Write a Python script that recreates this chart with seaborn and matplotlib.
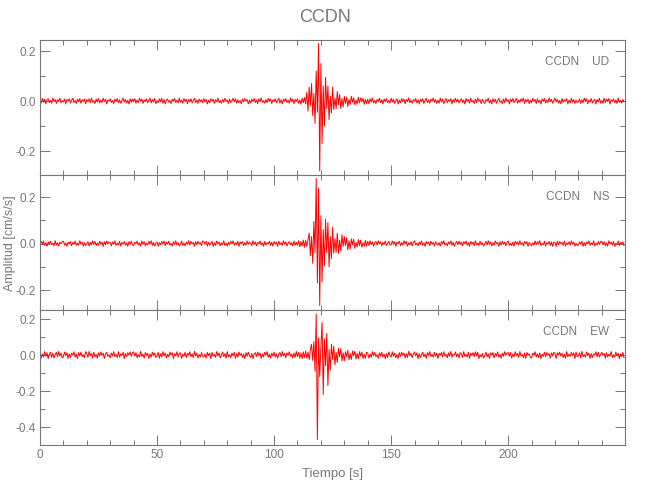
import numpy as np
import pandas as pd
import matplotlib
matplotlib.use("Agg")
import matplotlib.pyplot as plt
import seaborn as sns
from matplotlib.ticker import MultipleLocator, FormatStrFormatter

# sampling step of the traces [s]
dt = 0.5
station = "CCDN"
components = ["UD", "NS", "EW"]

# amplitudes in units of 0.001 cm/s/s, one row = 10 s
ud = [
    3, -8, 10, -5, 7, -11, 4, 9, -6, 2, -9, 12, -3, 6, -10, 5, -2, 11, -7, 1,
    -4, 8, -12, 6, -1, 9, -8, 3, 11, -6, 2, -10, 7, -3, 10, -9, 5, -2, 8, -11,
    6, -3, 9, -7, 12, -5, 1, -10, 8, -4, 10, -8, 3, -6, 11, -2, 7, -12, 4, -1,
    9, -6, 2, -11, 8, -3, 10, -7, 5, -9, 1, 12, -4, 6, -8, 3, -12, 9, -5, 7,
    -2, 10, -9, 4, -6, 11, -1, 8, -10, 5, -3, 9, -7, 2, 12, -8, 6, -4, 10, -11,
    1, -7, 9, -3, 11, -9, 6, -12, 4, 8, -5, 2, -10, 7, -1, 10, -6, 3, -8, 12,
    -5, 3, -9, 10, -2, 7, -11, 6, -4, 9, -8, 1, 11, -6, 4, -10, 8, -3, 5, -7,
    10, -4, 6, -12, 3, -8, 9, -1, 7, -10, 5, -3, 12, -7, 2, -9, 6, -5, 11, -2,
    4, -10, 8, -6, 1, 11, -3, 9, -9, 5, -7, 2, -11, 8, -4, 10, -1, 6, -12, 3,
    -8, 7, -2, 10, -6, 4, -11, 9, -3, 12, -5, 1, -9, 6, -7, 11, -2, 8, -10, 5,
    -3, 9, -7, 2, 11, -8, 5, -12, 7, -1, 10, -6, 3, -9, 12, -4, 8, -11, 6, -2,
    9, -10, 4, -13, 11, -7, 14, -12, 35, -40, 55, -20, 70, -58, 30, -90, 120, -45, 230, -280,
    150, -170, 60, -100, 95, -30, 60, -75, 20, -48, 55, -35, 12, -32, 38, -15, 26, -30, 10, -24,
    18, -9, 15, -22, 6, -14, 19, -5, 13, -16, 4, -12, 15, -8, 12, -3, 11, -13, 6, -10,
    7, -11, 9, -4, 12, -8, 3, -10, 6, -2, 11, -7, 5, -12, 8, -3, 10, -6, 2, -9,
    11, -5, 7, -10, 1, 9, -12, 4, -6, 10, -3, 8, -11, 6, -2, 12, -7, 3, -9, 5,
    -1, 10, -8, 5, -12, 7, -3, 9, -10, 2, 11, -6, 4, -9, 8, -1, 12, -5, 6, -10,
    3, -9, 12, -4, 8, -11, 2, 10, -7, 5, -2, 9, -12, 6, -5, 11, -3, 7, -8, 1,
    9, -6, 4, -12, 10, -2, 6, -9, 11, -4, 3, -10, 8, -7, 12, -1, 5, -11, 7, -3,
    -10, 6, -1, 11, -8, 3, -12, 9, -4, 7, -9, 2, 10, -5, 1, -11, 8, -6, 12, -2,
    5, -12, 8, -3, 10, -7, 1, 11, -9, 4, -6, 9, -2, 12, -10, 6, -4, 8, -11, 3,
    -7, 11, -2, 6, -10, 9, -5, 3, -12, 8, -1, 10, -8, 4, -6, 12, -3, 7, -9, 2,
    12, -4, 7, -9, 2, -11, 10, -6, 5, -1, 9, -12, 3, -8, 11, -5, 6, -10, 4, -7,
    -3, 8, -10, 5, -7, 12, -2, 9, -11, 4, -5, 10, -8, 1, 7, -12, 6, -4, 11, -9,
    2, -9, 11, -6, 8, -3, 10, -12, 5, -1, 9, -7, 4, -10, 12, -5, 3, -8, 6, -4,
]

ns = [
    -6, 9, -2, 11, -8, 4, -12, 7, -3, 10, -5, 1, -9, 12, -7, 3, -11, 6, -1, 8,
    10, -7, 3, -12, 6, -2, 9, -10, 5, -4, 11, -8, 2, -6, 12, -3, 7, -11, 4, -9,
    -1, 8, -11, 5, -6, 12, -4, 9, -9, 2, -7, 10, -3, 6, -12, 8, -5, 11, -2, 7,
    4, -10, 7, -3, 12, -8, 1, -6, 10, -11, 5, -2, 9, -7, 3, -12, 8, -4, 11, -5,
    -9, 6, -1, 10, -7, 3, -12, 11, -4, 8, -10, 2, -6, 9, -3, 12, -8, 5, -11, 1,
    7, -12, 4, -5, 9, -2, 11, -9, 6, -3, 10, -7, 1, -11, 8, -4, 12, -6, 3, -10,
    -4, 11, -8, 2, -10, 6, -3, 12, -7, 9, -1, 5, -12, 8, -6, 10, -2, 4, -9, 11,
    8, -3, 10, -11, 5, -7, 1, 9, -12, 4, -8, 11, -2, 6, -10, 3, -5, 12, -9, 2,
    -11, 5, -6, 9, -2, 12, -8, 3, -4, 10, -12, 7, -1, 8, -9, 4, -7, 11, -3, 6,
    2, -9, 12, -4, 7, -10, 5, -1, 11, -6, 3, -12, 9, -7, 4, -2, 10, -8, 6, -11,
    9, -2, 6, -12, 10, -5, 3, -8, 12, -3, 7, -11, 1, 9, -6, 4, -10, 11, -7, 5,
    -8, 12, -14, 9, -11, 15, -16, 13, -12, 18, 45, -52, 30, -85, 95, -40, 280, -170, 237, -267,
    120, -165, 60, -95, 105, -40, 90, -100, 30, -65, 70, -42, 20, -38, 45, -43, 15, -32, 38, -12,
    30, -8, 25, -27, 12, -24, 20, -6, 19, -21, 5, -15, 17, -9, 15, -16, 3, -12, 14, -11,
    10, -8, 12, -5, 7, -11, 3, 9, -6, 12, -2, 8, -10, 5, -4, 11, -9, 1, 10, -7,
    -5, 11, -3, 8, -12, 6, -1, 10, -9, 4, -7, 12, -2, 9, -11, 3, -6, 8, -10, 5,
    12, -6, 2, -10, 7, -4, 11, -8, 3, -12, 9, -1, 6, -9, 10, -3, 5, -11, 8, -2,
    -7, 4, -11, 9, -2, 12, -6, 1, -10, 7, -3, 11, -8, 5, -12, 2, 9, -5, 10, -4,
    6, -10, 8, -1, 11, -7, 4, -12, 9, -3, 6, -9, 12, -5, 2, -8, 10, -6, 3, -11,
    -2, 9, -6, 12, -4, 7, -10, 3, -8, 11, -1, 5, -12, 8, -7, 10, -3, 6, -9, 4,
    11, -8, 1, -9, 6, -11, 10, -2, 7, -6, 12, -4, 3, -10, 9, -1, 8, -12, 5, -3,
    -10, 3, -7, 11, -5, 8, -2, 12, -9, 1, -6, 10, -11, 4, -3, 9, -8, 7, -12, 6,
    4, -12, 10, -6, 9, -1, 5, -8, 11, -10, 2, -4, 8, -7, 12, -3, 6, -11, 1, -9,
    -6, 7, -3, 10, -12, 4, -9, 6, -1, 11, -8, 3, -5, 12, -10, 2, -7, 9, -4, 8,
    10, -5, 8, -9, 3, -11, 12, -2, 6, -7, 9, -12, 1, -4, 11, -8, 5, -3, 7, -10,
]

ew = [
    14, -18, 6, -11, 19, -7, 12, -20, 4, 16, -13, 9, -17, 3, 15, -10, 20, -5, 11, -16,
    -8, 17, -3, 12, -19, 6, -14, 10, -1, 18, -12, 5, -20, 13, -6, 16, -9, 2, -15, 19,
    7, -13, 20, -4, 9, -17, 15, -11, 3, -18, 12, -6, 17, -2, 10, -19, 5, 14, -8, 1,
    -16, 11, -5, 19, -9, 4, -14, 18, -12, 7, -3, 16, -20, 8, -10, 13, -1, 17, -7, 12,
    18, -6, 13, -15, 2, -11, 20, -9, 5, -17, 14, -3, 10, -19, 6, -12, 16, -4, 11, -14,
    -3, 15, -18, 8, -12, 19, -6, 11, -16, 4, -9, 17, -1, 13, -20, 7, -5, 18, -11, 9,
    12, -19, 4, -8, 16, -14, 9, -2, 18, -10, 6, -15, 20, -5, 11, -17, 3, -12, 14, -7,
    -11, 6, -17, 14, -4, 10, -20, 15, -8, 3, -13, 19, -6, 12, -16, 1, 17, -9, 7, -18,
    19, -10, 2, -16, 11, -5, 15, -19, 8, -12, 17, -2, 9, -14, 5, -20, 13, -7, 16, -4,
    -14, 8, -20, 5, 13, -9, 17, -3, 11, -18, 6, -11, 15, -1, 19, -13, 4, -16, 10, -6,
    16, -12, 7, -18, 3, 14, -10, 19, -5, 9, -15, 12, -2, 18, -8, 6, -17, 11, -13, 20,
    -9, 15, -18, 12, -21, 17, -14, 22, -19, 16, -25, 28, 60, -30, 75, -90, 228, -470, 95, -120,
    40, 180, -220, 90, -60, 120, -170, 30, -85, 60, -25, 50, -55, 15, -42, 38, -10, 35, -33, 12,
    -32, 18, -10, 26, -27, 8, -25, 22, -4, 20, -22, 9, -21, 18, -6, 17, -19, 5, -18, 15,
    11, -17, 6, -13, 19, -4, 15, -9, 2, -18, 12, -7, 16, -11, 5, -20, 8, -14, 17, -3,
    -12, 18, -6, 10, -16, 3, -19, 13, -8, 15, -2, 11, -17, 7, -13, 20, -5, 9, -15, 4,
    17, -5, 12, -20, 8, -14, 1, 16, -10, 6, -18, 13, -3, 19, -9, 4, -12, 15, -7, 10,
    -19, 9, -2, 14, -11, 18, -6, 3, -15, 12, -8, 20, -13, 5, -1, 17, -10, 7, -16, 13,
    6, -14, 19, -8, 4, -12, 16, -18, 10, -3, 13, -9, 18, -5, 15, -20, 2, -11, 9, -17,
    -4, 16, -11, 7, -19, 12, -1, 14, -16, 8, -6, 17, -12, 3, -18, 10, -7, 19, -2, 11,
    13, -7, 15, -17, 5, -10, 18, -4, 9, -13, 20, -6, 2, -15, 11, -19, 14, -1, 6, -12,
    -17, 10, -3, 18, -12, 6, -15, 11, -20, 4, -8, 16, -9, 13, -2, 7, -18, 12, -5, 15,
    8, -19, 13, -1, 16, -6, 10, -14, 3, -17, 19, -11, 5, -8, 14, -3, 12, -20, 17, -10,
    -6, 12, -16, 20, -9, 2, -13, 17, -4, 11, -19, 8, -14, 6, -1, 18, -10, 15, -12, 3,
    15, -3, 9, -18, 13, -11, 4, -7, 19, -15, 1, -12, 16, -5, 10, -20, 7, -9, 14, -16,
]

traces = [ud, ns, ew]
ylims = [(-0.296, 0.244), (-0.286, 0.295), (-0.5, 0.25)]

sns.set_style("ticks")
plt.rcParams['font.family'] = ['Liberation Sans', 'DejaVu Sans']
plt.rcParams['axes.unicode_minus'] = False
gray = '#777777'

fig, axes = plt.subplots(3, 1, figsize=(6.5, 5), dpi=100, sharex=True)
fig.subplots_adjust(left=0.0615, right=0.9615, bottom=0.11, top=0.92, hspace=0)

for ax, comp, trace, lim in zip(axes, components, traces, ylims):
    df = pd.DataFrame({'Tiempo': np.arange(len(trace)) * dt,
                       'Amp': np.array(trace) / 1000.0})
    sns.lineplot(data=df, x='Tiempo', y='Amp', ax=ax, color='red',
                 lw=0.7, estimator=None)
    ax.set_ylim(lim)
    ax.set_xlim(0, 249.9)
    ax.set_xlabel('')
    ax.set_ylabel('')
    ax.xaxis.set_major_locator(MultipleLocator(50))
    ax.xaxis.set_minor_locator(MultipleLocator(10))
    ax.yaxis.set_major_locator(MultipleLocator(0.2))
    ax.yaxis.set_minor_locator(MultipleLocator(0.1))
    ax.yaxis.set_major_formatter(FormatStrFormatter('%.1f'))
    ax.tick_params(which='both', direction='in', top=True, right=True,
                   colors=gray, labelsize=8.5, width=0.7, pad=3)
    ax.tick_params(which='major', length=7)
    ax.tick_params(which='minor', length=3.5)
    for sp in ax.spines.values():
        sp.set_visible(True)
        sp.set_color(gray)
        sp.set_linewidth(0.8)
    ax.text(0.973, 0.84, f"{station}    {comp}", transform=ax.transAxes,
            ha='right', va='center', fontsize=8.5, color=gray)

axes[-1].set_xlabel('Tiempo [s]', color=gray, fontsize=9.5, labelpad=5)
fig.text(0.015, 0.514, 'Amplitud [cm/s/s]', rotation=90, ha='center',
         va='center', color=gray, fontsize=9)
fig.text(0.5, 0.965, station, ha='center', va='center', color=gray, fontsize=13)

plt.savefig('out.png', dpi=100)
